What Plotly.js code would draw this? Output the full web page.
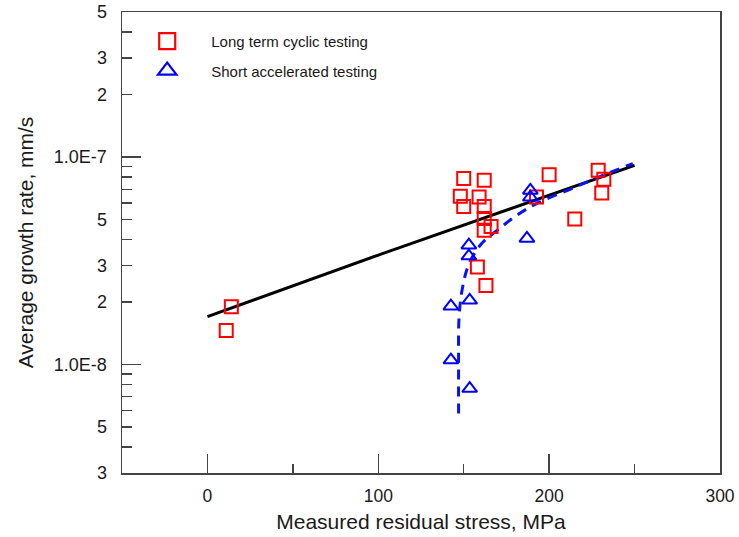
<!DOCTYPE html>
<html>
<head>
<meta charset="utf-8">
<script src="https://cdn.plot.ly/plotly-3.0.1.min.js"></script>
<style>
html,body{margin:0;padding:0;background:#fff;}
#chart{width:739px;height:537px;}
</style>
</head>
<body>
<div id="chart"></div>
<script>
// Long term cyclic testing (red squares)
var longX = [14, 11, 150, 162, 148, 159, 150, 162, 162, 166, 162, 158, 163, 200, 192.6, 215, 228.7, 232, 230.8];
var longY = [1.90e-8, 1.46e-8, 7.87e-8, 7.72e-8, 6.47e-8, 6.41e-8, 5.78e-8, 5.78e-8, 5.05e-8, 4.63e-8, 4.44e-8, 2.95e-8, 2.40e-8, 8.22e-8, 6.41e-8, 5.03e-8, 8.63e-8, 7.81e-8, 6.71e-8];
// Short accelerated testing (blue triangles)
var shortX = [189, 189, 187, 153, 153, 142.5, 153.5, 142.5, 153.5];
var shortY = [6.9e-8, 6.4e-8, 4.05e-8, 3.76e-8, 3.33e-8, 1.91e-8, 2.04e-8, 1.05e-8, 7.66e-9];
// Fit line for long term data (solid black)
var fitX = [0, 100, 250];
var fitY = [1.70e-8, 3.37e-8, 9.12e-8];
// Fit curve for short accelerated data (dashed blue)
var curveX = [147, 147, 147.3, 149.4, 153.1, 160.5, 169.7, 181.1, 192.6, 213.3, 231.7, 249];
var curveY = [5.8e-9, 9.75e-9, 1.70e-8, 2.37e-8, 3.06e-8, 3.83e-8, 4.44e-8, 5.24e-8, 5.96e-8, 7.05e-8, 8.17e-8, 9.3e-8];

// Legend labels
var seriesNames = ['Long term cyclic testing', 'Short accelerated testing'];

// Axis ticks
var xTickVals = [0, 100, 200, 300];
var xMinorVals = [50, 150, 250];
var yTickVals = [3e-9, 5e-9, 1e-8, 2e-8, 3e-8, 5e-8, 1e-7, 2e-7, 3e-7, 5e-7];
var yTickText = ['3', '5', '1.0E-8', '2', '3', '5', '1.0E-7', '2', '3', '5'];
var yMinorVals = [4e-9, 6e-9, 7e-9, 8e-9, 9e-9, 4e-8, 6e-8, 7e-8, 8e-8, 9e-8, 4e-7];
var yDecadeVals = [1e-8, 1e-7];

var FONT = 'Liberation Sans, Arial, Helvetica, sans-serif';
var AX = '#444444';
var TXT = '#1a1a1a';

var traces = [
  {x: fitX, y: fitY, mode: 'lines', line: {color: '#000000', width: 3}, showlegend: false, hoverinfo: 'skip'},
  {x: curveX, y: curveY, mode: 'lines', line: {color: '#0a14f0', width: 3, dash: '10px,7px', shape: 'spline'}, showlegend: false, hoverinfo: 'skip'},
  {x: longX, y: longY, mode: 'markers', name: seriesNames[0], showlegend: false,
   marker: {symbol: 'square-open', size: 13, color: '#ff0000', line: {width: 2}}},
  {x: shortX, y: shortY, mode: 'markers', name: seriesNames[1], showlegend: false,
   marker: {symbol: 'triangle-up-open', size: 13, color: '#0000ff', line: {width: 2}}},
  // legend entries (larger legend symbols as in the reference)
  {x: [null], y: [null], mode: 'markers', name: seriesNames[0], legendgroup: 'a',
   marker: {symbol: 'square-open', size: 16, color: '#ff0000', line: {width: 2.2}}},
  {x: [null], y: [null], mode: 'markers', name: seriesNames[1], legendgroup: 'b',
   marker: {symbol: 'triangle-up-open', size: 16, color: '#0000ff', line: {width: 2.2}}},
  // carrier for long decade ticks
  {x: [0], y: [1e-8], yaxis: 'y2', mode: 'markers', marker: {opacity: 0}, showlegend: false, hoverinfo: 'skip'}
];

var yRange = [Math.log10(3e-9), Math.log10(5e-7)];

var layout = {
  width: 739, height: 537,
  margin: {l: 122, r: 19, t: 12, b: 64},
  paper_bgcolor: '#ffffff', plot_bgcolor: '#ffffff',
  font: {family: FONT, color: TXT},
  showlegend: true,
  legend: {x: 0.002, y: 0.972, xanchor: 'left', yanchor: 'top', bgcolor: 'rgba(0,0,0,0)',
           font: {size: 15, family: FONT, color: TXT}, traceorder: 'grouped', tracegroupgap: 7,
           itemwidth: 78},
  xaxis: {
    range: [-50, 300], tickmode: 'array', tickvals: xTickVals, ticks: 'inside', ticklen: 19, tickwidth: 1.3,
    tickcolor: AX, showline: true, linecolor: AX, linewidth: 1.5, mirror: true, showgrid: false, zeroline: false,
    tickfont: {size: 17.5, family: FONT, color: TXT}, ticklabelstandoff: 6,
    minor: {tickvals: xMinorVals, ticks: 'inside', ticklen: 9, tickwidth: 1.3, tickcolor: AX, showgrid: false},
    title: {text: 'Measured residual stress, MPa', font: {size: 21, family: FONT, color: TXT}, standoff: 10}
  },
  yaxis: {
    type: 'log', range: yRange, tickmode: 'array', tickvals: yTickVals, ticktext: yTickText,
    ticks: 'inside', ticklen: 10, tickwidth: 1.3, tickcolor: AX, showline: true, linecolor: AX, linewidth: 1.5,
    mirror: true, showgrid: false, zeroline: false,
    tickfont: {size: 18, family: FONT, color: TXT}, ticklabelstandoff: 10,
    minor: {tickvals: yMinorVals, ticks: 'inside', ticklen: 10, tickwidth: 1.3, tickcolor: AX, showgrid: false},
    title: {text: 'Average growth rate, mm/s', font: {size: 21, family: FONT, color: TXT}, standoff: 14}
  },
  yaxis2: {
    type: 'log', range: yRange, overlaying: 'y', side: 'left', tickmode: 'array', tickvals: yDecadeVals,
    showticklabels: false, ticks: 'inside', ticklen: 19, tickwidth: 1.3, tickcolor: AX,
    showline: false, showgrid: false, zeroline: false
  }
};

Plotly.newPlot('chart', traces, layout, {displayModeBar: false, staticPlot: true});
</script>
</body>
</html>
